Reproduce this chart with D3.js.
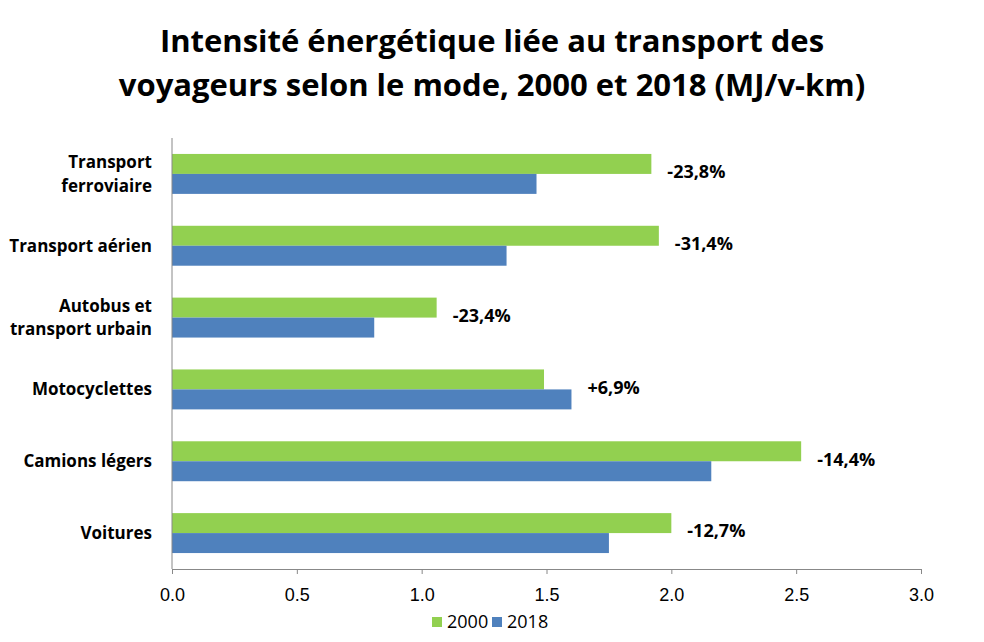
<!DOCTYPE html>
<html lang="fr">
<head>
<meta charset="UTF-8">
<title>Intensité énergétique</title>
<script src="https://d3js.org/d3.v7.min.js"></script>
<style>
  body { margin: 0; background: #fff; }
  svg { font-family: "Open Sans", Lato, sans-serif; }
  .title { font-size: 31px; font-weight: bold; }
  .cat { font-size: 17px; font-weight: bold; }
  .pct { font-size: 18px; font-weight: bold; }
  .tick text { font-size: 18px; fill: #000; }
</style>
</head>
<body>
<svg width="984" height="642"></svg>
<script>
// data
const categories = ["Transport ferroviaire", "Transport aérien", "Autobus et transport urbain",
                    "Motocyclettes", "Camions légers", "Voitures"];
const catLines = [["Transport", "ferroviaire"], ["Transport aérien"], ["Autobus et", "transport urbain"],
                  ["Motocyclettes"], ["Camions légers"], ["Voitures"]];
const values2000 = [1.92, 1.95, 1.06, 1.49, 2.52, 2.00];
const values2018 = [1.46, 1.34, 0.81, 1.60, 2.16, 1.75];
const changes = ["-23,8%", "-31,4%", "-23,4%", "+6,9%", "-14,4%", "-12,7%"];
const xTicks = [0, 0.5, 1, 1.5, 2, 2.5, 3];
const seriesNames = ["2000", "2018"];
const colors = ["#92D050", "#4F81BD"];

const svg = d3.select("svg");

// title
svg.append("text").attr("class", "title")
  .attr("x", 492).attr("y", 52).attr("text-anchor", "middle")
  .text("Intensité énergétique liée au transport des");
svg.append("text").attr("class", "title")
  .attr("x", 492).attr("y", 96).attr("text-anchor", "middle")
  .text("voyageurs selon le mode, 2000 et 2018 (MJ/v-km)");

const x = d3.scaleLinear().domain([0, 3]).range([172, 921]);
const y = d3.scaleBand().domain(categories).range([138, 569]).paddingInner(0.444).paddingOuter(0.222);
const sub = d3.scaleBand().domain(seriesNames).range([0, y.bandwidth()]);

// bars
const rows = categories.map((c, i) => ({cat: c, vals: [values2000[i], values2018[i]]}));
const g = svg.append("g");
rows.forEach(r => {
  seriesNames.forEach((s, j) => {
    g.append("rect")
      .attr("x", x(0))
      .attr("y", y(r.cat) + sub(s))
      .attr("width", x(r.vals[j]) - x(0))
      .attr("height", sub.bandwidth())
      .attr("fill", colors[j]);
  });
});

// percent labels
svg.append("g").selectAll("text")
  .data(rows)
  .join("text")
  .attr("class", "pct")
  .attr("x", (d) => x(d3.max(d.vals)) + 16)
  .attr("y", (d) => y(d.cat) + y.bandwidth() / 2 - 2)
  .attr("dy", "0.35em")
  .text((d, i) => changes[i]);

// x axis
const xAxis = svg.append("g")
  .attr("transform", "translate(0,569)")
  .call(d3.axisBottom(x).tickValues(xTicks).tickFormat(d3.format(".1f")).tickSize(5).tickSizeOuter(0).tickPadding(14));
xAxis.select(".domain").attr("stroke", "#888");
xAxis.selectAll(".tick line").attr("stroke", "#888");

// y axis line
svg.append("line")
  .attr("x1", x(0)).attr("x2", x(0))
  .attr("y1", 138).attr("y2", 569)
  .attr("stroke", "#888");

// category labels
const cl = svg.append("g").selectAll("text")
  .data(categories)
  .join("text")
  .attr("class", "cat")
  .attr("text-anchor", "end")
  .attr("x", 152)
  .attr("y", (d) => y(d) + y.bandwidth() / 2);
cl.each(function(d, i) {
  const lines = catLines[i];
  const t = d3.select(this);
  lines.forEach((ln, k) => {
    t.append("tspan")
      .attr("x", 152)
      .attr("dy", k === 0 ? (0.35 - (lines.length - 1) * 0.7) + "em" : "1.4em")
      .text(ln);
  });
});

// legend
const leg = svg.append("g").attr("transform", "translate(432,622)");
seriesNames.forEach((s, j) => {
  const lg = leg.append("g").attr("transform", `translate(${j * 60},0)`);
  lg.append("rect").attr("x", 0).attr("y", -5).attr("width", 10).attr("height", 10).attr("fill", colors[j]);
  lg.append("text").attr("x", 15).attr("y", 0).attr("dy", "0.35em").style("font-size", "18px").text(s);
});
</script>
</body>
</html>
